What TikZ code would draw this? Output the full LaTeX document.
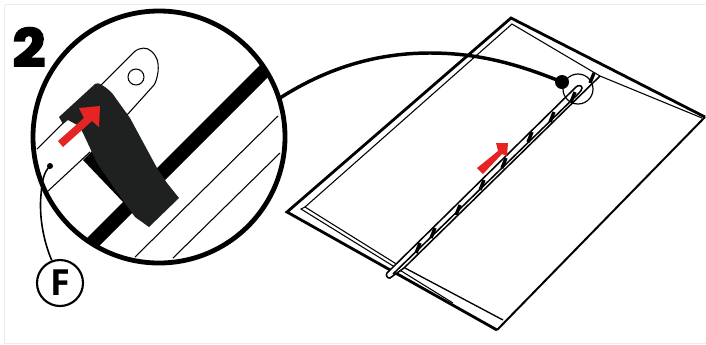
\documentclass[tikz,border=0pt]{standalone}
\usepackage{fontspec}
\newfontfamily\stepfont[BoldFeatures={FakeBold=3.5},FakeStretch=1.1]{Poppins}
\setsansfont{Open Sans}
\definecolor{strapblack}{RGB}{31,33,32}
\definecolor{arrowred}{RGB}{230,36,36}
\definecolor{framegray}{RGB}{236,236,236}
\tikzset{every picture/.style={line width=0.75pt}}
\tikzset{
sheet edge/.style={line width=2.1pt,line join=miter},
thin edge/.style={line width=0.8pt},
rail edge/.style={line width=1.15pt},
callout/.style={line width=2.6pt},
red arrow/.style={fill=arrowred,draw=none}}
\begin{document}
\begin{tikzpicture}[x=0.75pt,y=0.75pt,yscale=-1,xscale=1]
\useasboundingbox (0,0) rectangle (706,344);

%Shape: Frame
\draw [framegray,line width=1.4pt] (4.5,4.5) -- (706,4.5) (4.5,4.5) -- (4.5,343.5) -- (706,343.5);

%Shape: Sheet
\draw [sheet edge] (705,117) -- (511,18) -- (287,212) -- (497,330);
\draw [line width=1.5pt] (705,117) -- (497,330);
\draw [thin edge] (702,118) -- (600,76) -- (512,24) -- (305,207) -- (398,265);
\draw [line width=1pt] (405,268) -- (503,320);
\draw [thin edge] (305,207) -- (301,209) -- (453,303);

%Shape: Rail
\draw [rail edge,fill=white] (600,76) -- (404,268) -- (390,278) .. controls (388,279) and (385,275) .. (387,273) -- (576,87) .. controls (578,85) and (582,85) .. (582,88) .. controls (582,90) and (580,92) .. (578,94) -- (393,274);
\foreach \tx/\ty in {418/248,433/233,458/210,482/185,504/163,530/137,552/117,573/97,592/78}
  \draw [line width=2.5pt] (\tx-2,\ty+5) -- (\tx+2,\ty-5);

%Shape: Small circle
\draw [line width=0.9pt] (578,89) circle [radius=15];

%Shape: Small red arrow
\path [red arrow] (477,168) -- (498,151) -- (496,143) -- (508,143) -- (507,156) -- (502,154) -- (483,174) -- cycle;

%Shape: Big circle content
\begin{scope}
\clip (159,137) circle [radius=126];
\fill [white] (159,137) circle [radius=126];
\draw [line width=10.6pt] (268,67) -- (88,247);
\draw [thin edge] (278,116) -- (135,257);
\draw [thin edge] (280,153) -- (173,258);
\draw [thin edge] (37,149) -- (134,52) .. controls (140,47) and (147,47) .. (151,51) .. controls (157,56) and (159,62) .. (158,72) .. controls (157,78) and (156,82) .. (154,85) -- (127,115);
\draw [thin edge] (48,191) -- (90,152);
\end{scope}
\draw [thin edge] (136,77) circle [radius=8];

%Shape: Strap
\fill [black] (83,160) -- (92,151) -- (130,195) -- (124,203) -- cycle;
\fill [strapblack] (59,117) -- (95,84) .. controls (97,83) and (99,83) .. (100,84) .. controls (104,86) and (108,89) .. (112,93) -- (130,118) -- (157,168) -- (167,183) -- (179,198) -- (149,227) -- (135,217) -- (117,192) -- (97,163) -- (83,133) -- (79,126) -- (68,120) -- (63,124) -- cycle;

%Shape: Big red arrow
\path [red arrow] (58,141) -- (84,118) -- (79,108) -- (100,106) -- (99,127) -- (92,121) -- (63,147) -- cycle;

%Shape: Big circle
\draw [line width=3.6pt] (159,137) circle [radius=126];

%Straight Lines: callout
\coordinate (lens) at (280,98);
\node (spot) [circle,fill=black,inner sep=0pt,minimum size=10.5pt] at (562,82) {};
\draw [callout] (lens) .. controls (330,66) and (380,53) .. (430,53) .. controls (480,53) and (520,65) .. (spot.center);

% Text Node
\node (stepno) [inner sep=0pt,font=\stepfont\fontsize{39}{39}\selectfont\bfseries] at (29,47) {2};
% Text Node
\node (partf) [circle,draw,line width=1.6pt,fill=white,minimum size=34.5pt,inner sep=0pt,font=\sffamily\fontsize{27}{27}\selectfont\bfseries] at (60,283) {F};
\node (partdot) [circle,fill=black,inner sep=0pt,minimum size=4.5pt] at (50,166) {};
\draw [line width=1.2pt] (partf.110) .. controls (43,240) and (39,215) .. (41,195) .. controls (42,180) and (44,172) .. (partdot.center);

\end{tikzpicture}
\end{document}
